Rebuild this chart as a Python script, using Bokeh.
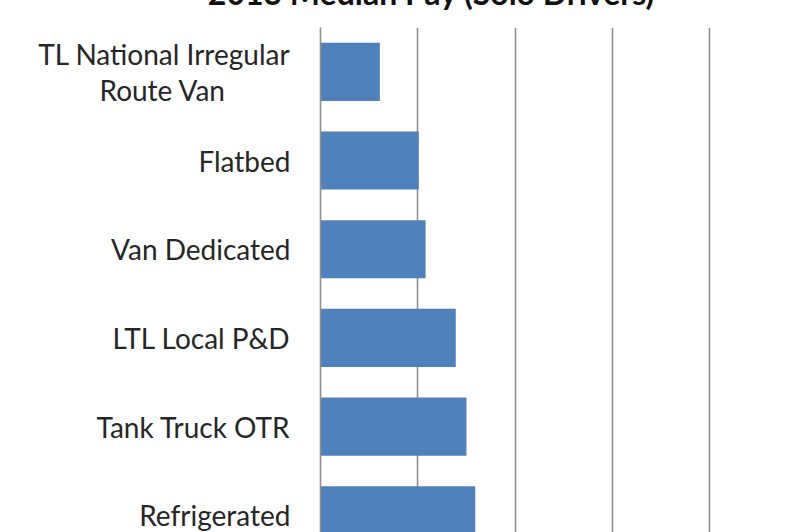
from bokeh.embed import file_html
from bokeh.models import FixedTicker, Label, Range1d
from bokeh.plotting import figure
from bokeh.resources import INLINE

# 2013 median pay, solo drivers (USD); axis labels are cropped off in the source
categories = [
    "TL National Irregular\nRoute Van" + "\u00a0" * 9,
    "Flatbed",
    "Van Dedicated",
    "LTL Local P&D",
    "Tank Truck OTR",
    "Refrigerated",
]
median_pay = [36100, 40100, 40800, 43900, 45000, 45900]
axis_start = 30000
grid_step = 10000

BAR = "#4F81BD"
GRID = "#8f8f8f"
FONT = "Lato"

idx = list(range(len(categories)))

# the top panel is as tall as the title, so the canvas is lifted to crop it
lift = 12

p = figure(
    width=800,
    height=532 + lift,
    output_backend="svg",
    toolbar_location=None,
    x_range=Range1d(axis_start, axis_start + 4.933 * grid_step),
    # flipped: first category on top, the chart is cut below the last bar
    y_range=Range1d(5.194, -0.5),
    min_border_left=320,
    min_border_right=0,
    min_border_top=27,
    min_border_bottom=0,
    styles={"margin-top": f"-{lift}px"},
)
p.outline_line_color = None
p.background_fill_color = "white"

p.hbar(y=idx, left=axis_start, right=median_pay, height=0.655,
       fill_color=BAR, line_color=None)

p.xaxis.visible = False
p.xaxis.ticker = FixedTicker(ticks=[axis_start + grid_step * k for k in range(1, 5)])
p.xgrid.grid_line_color = GRID
p.xgrid.grid_line_width = 1.6
p.ygrid.grid_line_color = None

yax = p.yaxis[0]
yax.ticker = FixedTicker(ticks=idx)
yax.major_label_overrides = {i: c for i, c in zip(idx, categories)}
yax.major_label_text_font = FONT
yax.major_label_text_font_size = "28px"
yax.major_label_text_color = "#262626"
yax.major_label_text_line_height = 1.07
yax.major_label_standoff = 30
yax.major_tick_line_color = None
yax.major_tick_out = 0
yax.minor_tick_line_color = None
yax.axis_line_color = GRID
yax.axis_line_width = 1.6

# title sits mostly above the visible crop; kept in the top panel so the
# frame does not clip it
title = Label(
    x=111, y=35, x_units="screen", y_units="screen",
    text="2013 Median Pay (Solo Drivers)",
    text_align="center", text_baseline="alphabetic",
    text_font=FONT, text_font_size="32px", text_font_style="bold",
    text_color="#111111",
)
p.add_layout(title, "above")

open("out.html", "w").write(file_html(p, INLINE))
